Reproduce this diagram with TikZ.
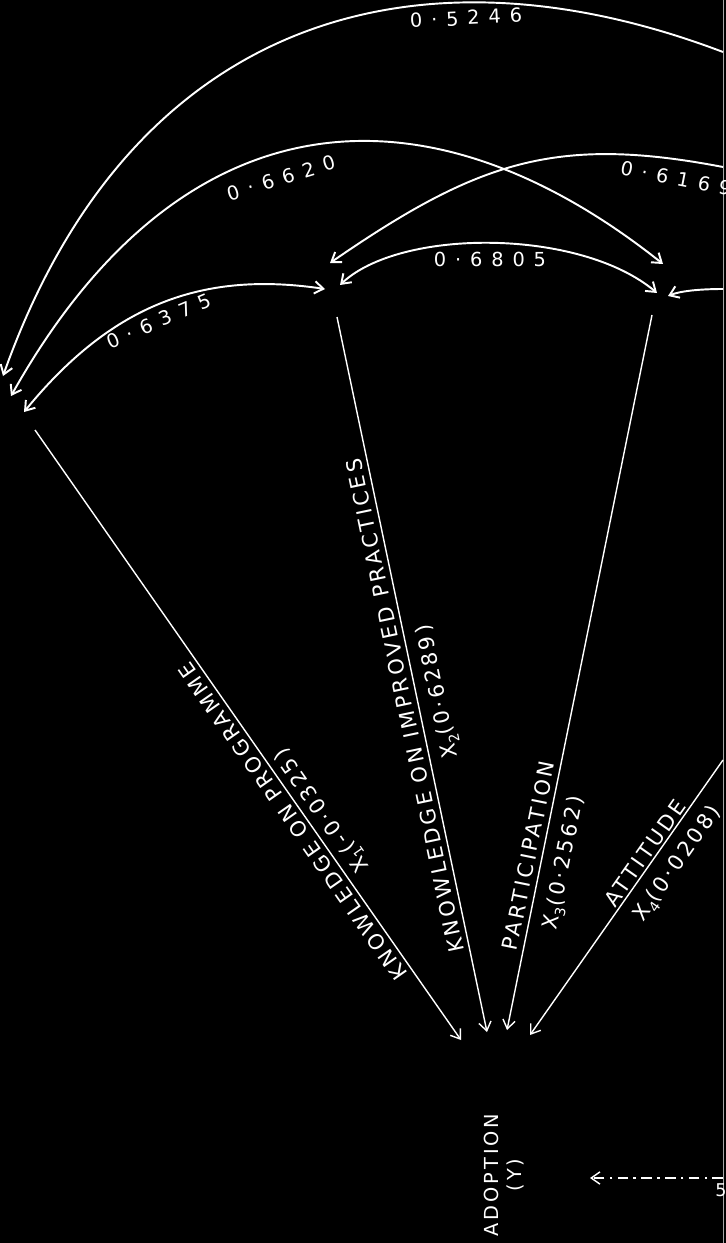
\documentclass[tikz,border=0pt]{standalone}
\usepackage{fontspec}
\setmainfont{DejaVu Sans}
\newfontfamily\lettering[LetterSpace=15]{DejaVu Sans}
\newfontfamily\numbering[LetterSpace=46]{DejaVu Sans}
\usetikzlibrary{arrows.meta}
\newcommand{\xsub}[1]{X\raisebox{-.45ex}{\footnotesize #1}}

\begin{document}
\begin{tikzpicture}[x=0.02cm,y=-0.02cm,
  >={Straight Barb[length=5pt,width=7pt]},
  corr/.style={white,line width=1.1pt},
  effect/.style={white,line width=0.8pt},
  numlbl/.style={white,font=\numbering\fontsize{11}{12}\selectfont,inner sep=0pt},
  varlbl/.style={white,font=\lettering\fontsize{12}{13}\selectfont,sloped,allow upside down}]
  \fill[black] (0,0) rectangle (726,1243);
  \useasboundingbox (0,0) rectangle (726,1243);
  \clip (0,0) rectangle (726,1243);
  \draw[gray!70,line width=0.6pt] (723.5,0) -- (723.5,1243);

  % ends round the variables
  \coordinate (x1a) at (3,376);
  \coordinate (x1b) at (11,396);
  \coordinate (x1c) at (24,412);
  \coordinate (x1d) at (35,430);
  \coordinate (x2a) at (330,263);
  \coordinate (x2b) at (325,289);
  \coordinate (x2c) at (340,285);
  \coordinate (x2d) at (337,317);
  \coordinate (x3a) at (663,264);
  \coordinate (x3b) at (657,293);
  \coordinate (x3c) at (668,296);
  \coordinate (x3d) at (652,315);
  % x4 lies past the right edge
  \coordinate (x4a) at (723,52);
  \coordinate (x4b) at (723,167);
  \coordinate (x4c) at (723,289);
  \coordinate (x4d) at (723,760);
  \coordinate (res) at (723,1178);
  \coordinate (ya) at (461,1040);
  \coordinate (yb) at (487,1032);
  \coordinate (yc) at (507,1030);
  \coordinate (yd) at (530,1035);
  \coordinate (ye) at (590,1178);

  \node[white,rotate=90,align=center,font=\lettering\fontsize{11}{13}\selectfont] (y) at (504,1175) {ADOPTION\\(Y)};

  % correlations
  \draw[corr,->] (x4a) .. controls (415,-65) and (130,18) .. (x1a);
  \draw[corr,<->] (x1b) .. controls (182,91) and (428,77) .. (x3a);
  \draw[corr,<->] (x1c) .. controls (113,303) and (204,271) .. (x2b);
  \draw[corr,<->] (x2c) .. controls (400,228) and (580,228) .. (x3b);
  \draw[corr,->] (x4b) .. controls (556,135) and (478,161) .. (x2a);
  \draw[corr,->] (x4c) .. controls (700,289) and (680,291) .. (x3c);
  \node[numlbl,rotate=3] (r14) at (466,18) {0·5246};
  \node[numlbl,rotate=17] (r13) at (281,178) {0·6620};
  \node[numlbl,rotate=-11] (r24) at (676,178) {0·6169};
  \node[numlbl] (r23) at (490,259) {0·6805};
  \node[numlbl,rotate=23] (r12) at (159,321) {0·6375};

  % paths to adoption
  \draw[effect,<-] (ya) -- (x1d)
    node[varlbl,pos=0.37,above,inner sep=2.4pt] (n1) {KNOWLEDGE ON PROGRAMME}
    node[varlbl,pos=0.36,below,inner sep=4pt] (b1) {\xsub{1}(-0·0325)};
  \draw[effect,<-] (yb) -- (x2d)
    node[varlbl,pos=0.46,above,inner sep=2.7pt] (n2) {KNOWLEDGE ON IMPROVED PRACTICES}
    node[varlbl,pos=0.47,below,inner sep=6.4pt] (b2) {\xsub{2}(0·6289)};
  \draw[effect,<-] (yc) -- (x3d)
    node[varlbl,pos=0.24,above,inner sep=2.8pt] (n3) {PARTICIPATION}
    node[varlbl,pos=0.24,below,inner sep=6.8pt] (b3) {\xsub{3}(0·2562)};
  \draw[effect,<-] (yd) -- (x4d)
    node[varlbl,pos=0.64,above,inner sep=1pt] (n4) {ATTITUDE}
    node[varlbl,pos=0.67,below,inner sep=6.6pt] (b4) {\xsub{4}(0·0208)};
  \draw[effect,->,dash pattern=on 6pt off 3pt on 1.5pt off 3pt] (res) -- (ye);
  \node[white,font=\lettering\fontsize{10}{11}\selectfont] (e) at (721,1190) {5};
\end{tikzpicture}
\end{document}
